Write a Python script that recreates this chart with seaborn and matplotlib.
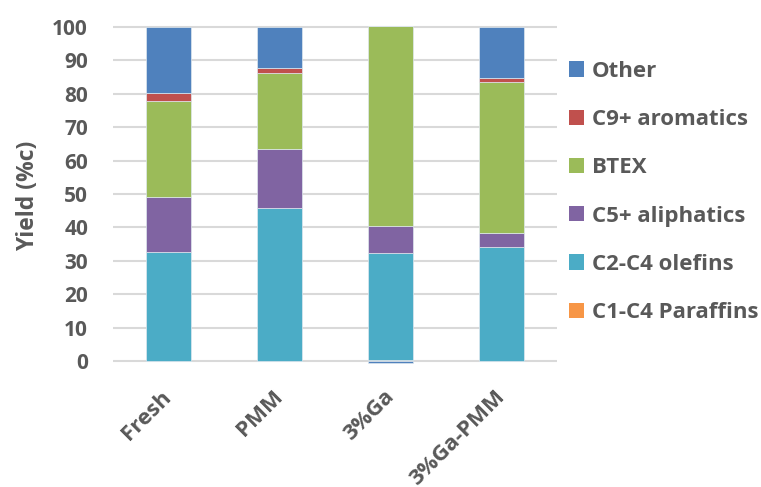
import numpy as np
import pandas as pd
import matplotlib
matplotlib.use("Agg")
import matplotlib.pyplot as plt
import seaborn as sns
from matplotlib.patches import Patch

# Catalyst samples
catalysts = ["Fresh", "PMM", "3%Ga", "3%Ga-PMM"]

# Product yields (%c), bottom-to-top stacking order
c1_c4_paraffins = [0.0, 0.0, 0.3, 0.0]
c2_c4_olefins = [32.6, 45.7, 32.0, 34.0]
c5_aliphatics = [16.5, 17.9, 8.0, 4.3]
btex = [28.8, 22.6, 60.0, 45.2]
c9_aromatics = [2.4, 1.6, 0.0, 1.2]
other = [19.7, 12.2, -0.6, 15.3]

series_names = ["C1-C4 Paraffins", "C2-C4 olefins", "C5+ aliphatics",
                "BTEX", "C9+ aromatics", "Other"]
series_values = [c1_c4_paraffins, c2_c4_olefins, c5_aliphatics,
                 btex, c9_aromatics, other]
series_colors = ["#F79646", "#4BACC6", "#8064A2", "#9BBB59", "#C0504D", "#4F81BD"]

yticks = [0, 10, 20, 30, 40, 50, 60, 70, 80, 90, 100]

sns.set_theme(style="white")
plt.rcParams["font.family"] = ["Open Sans", "DejaVu Sans"]
text_color = "#595959"

fig = plt.figure(figsize=(7.61, 4.87), dpi=100)
ax = fig.add_axes([0.1485, 0.2485, 0.5835, 0.7002])

pos_base = np.zeros(len(catalysts))
neg_base = np.zeros(len(catalysts))
for name, vals, col in zip(series_names, series_values, series_colors):
    vals = np.asarray(vals, dtype=float)
    bottom = np.where(vals >= 0, pos_base, neg_base)
    df = pd.DataFrame({"catalyst": catalysts, "value": vals})
    sns.barplot(data=df, x="catalyst", y="value", order=catalysts,
                color=col, saturation=1, width=0.4, bottom=bottom,
                edgecolor="#dfe8ef", linewidth=0.5, errorbar=None, ax=ax,
                zorder=3)
    pos_base = pos_base + np.clip(vals, 0, None)
    neg_base = neg_base + np.clip(vals, None, 0)

ax.set_xlim(-0.5, len(catalysts) - 0.5)
ax.set_ylim(-1.5, 100.6)
ax.set_yticks(yticks)
ax.set_yticklabels([str(t) for t in yticks])
ax.yaxis.grid(True, color="#D9D9D9", linewidth=1.5, zorder=0)
ax.set_axisbelow(True)
for s in ax.spines.values():
    s.set_visible(False)

ax.tick_params(axis="both", length=0, labelcolor=text_color)
ax.tick_params(axis="y", pad=18, labelsize=15)
ax.tick_params(axis="x", pad=20, labelsize=16)
for lbl in ax.get_yticklabels() + ax.get_xticklabels():
    lbl.set_fontweight("bold")
for lbl in ax.get_xticklabels():
    lbl.set_rotation(45)
    lbl.set_ha("right")
    lbl.set_va("center")
    lbl.set_rotation_mode("anchor")

ax.set_xlabel("")
ax.set_ylabel("Yield (%c)", fontsize=16.5, fontweight="bold", color=text_color)
ax.yaxis.set_label_coords(-0.165, 0.5)

handles = [Patch(facecolor=c, edgecolor="none", label=n)
           for n, c in zip(series_names, series_colors)][::-1]
leg = fig.legend(handles=handles, loc="upper left",
                 bbox_to_anchor=(0.748, 0.875), frameon=False,
                 fontsize=16, handlelength=0.68, handleheight=0.68,
                 handletextpad=0.33, labelspacing=1.225, borderpad=0,
                 borderaxespad=0)
for t in leg.get_texts():
    t.set_color(text_color)
    t.set_fontweight("bold")

fig.savefig("out.png", dpi=100)
